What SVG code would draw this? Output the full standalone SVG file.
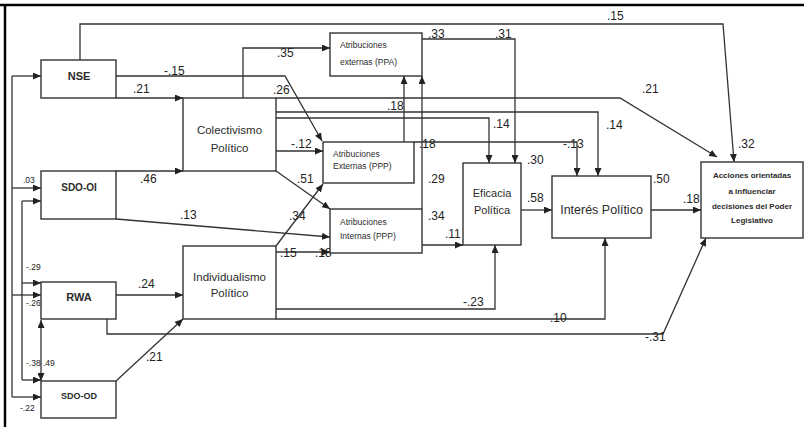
<svg xmlns="http://www.w3.org/2000/svg" width="804" height="427" viewBox="0 0 804 427">
<defs>
<marker id="a" markerUnits="userSpaceOnUse" markerWidth="8" markerHeight="7" refX="8" refY="3.5" orient="auto-start-reverse"><path d="M0,0 L8,3.5 L0,7 z" fill="#222"/></marker>
<style>
.box{fill:#fff;stroke:#333;stroke-width:1.4}
.t{font-family:"Liberation Sans",Arial,sans-serif;fill:#2b2b2b;text-anchor:middle}
.b{font-weight:bold}
.s{font-family:"Liberation Sans",Arial,sans-serif;fill:#2b2b2b;font-size:8.5px}
.l{font-family:"Liberation Sans",Arial,sans-serif;fill:#222;font-size:12px}
.ls{font-family:"Liberation Sans",Arial,sans-serif;fill:#222;font-size:8.5px}
#conn path{fill:none;stroke:#333;stroke-width:1.3}
#conn path.ar{marker-end:url(#a)}
</style>
</defs>
<rect width="804" height="427" fill="#fff"/>
<path d="M0,5 H804 M5,5 V427" stroke="#000" stroke-width="2.5" fill="none"/>
<g id="conn">
<path class="ar" d="M80,60 V24 H723 L734,162"/>
<path class="ar" d="M116,98 H183"/>
<path class="ar" d="M116,76 H285 L322,141"/>
<path class="ar" d="M243,98 V48 H330"/>
<path class="ar" d="M276,98 H620 L717,157"/>
<path class="ar" d="M276,112 H598 V176"/>
<path class="ar" d="M276,118 H489 V163"/>
<path class="ar" d="M276,151 H323"/>
<path class="ar" d="M276,171 L330,209"/>
<path class="ar" d="M116,171 H183"/>
<path class="ar" d="M116,219 L330,237"/>
<path class="ar" d="M276,246 L323,184"/>
<path class="ar" d="M276,252 H330"/>
<path class="ar" d="M276,309 H495 V245"/>
<path class="ar" d="M276,319 H605 V238"/>
<path class="ar" d="M116,295 H183"/>
<path class="ar" d="M107,319 V334 H663 L706,238"/>
<path class="ar" d="M116,381 L183,319"/>
<path class="ar" d="M404,142 V76"/>
<path class="ar" d="M422,209 V76"/>
<path class="ar" d="M414,142 H577 V176"/>
<path class="ar" d="M422,39 H515 V163"/>
<path class="ar" d="M422,245 H463"/>
<path class="ar" d="M521,210 H552"/>
<path class="ar" d="M651,210 H701"/>
<path d="M12,76 V397"/>
<path class="ar" d="M12,76 H41"/>
<path class="ar" d="M12,188 H41"/>
<path class="ar" d="M12,295 H41"/>
<path class="ar" d="M12,397 H41"/>
<path d="M22,201 V380"/>
<path class="ar" d="M22,201 H41"/>
<path class="ar" d="M22,283 H41"/>
<path class="ar" d="M22,380 H41"/>
<path class="ar" d="M41,320 V381" marker-start="url(#a)"/>
</g>
<g id="labels">
<text class="l" x="607" y="20">.15</text>
<text class="l" x="642" y="93">.21</text>
<text class="l" x="606" y="129">.14</text>
<text class="l" x="738" y="148" font-size="13">.32</text>
<text class="l" x="563" y="148">-.13</text>
<text class="l" x="493" y="128">.14</text>
<text class="l" x="387" y="110">.18</text>
<text class="l" x="419" y="148">.18</text>
<text class="l" x="273" y="94">.26</text>
<text class="l" x="164" y="75">-.15</text>
<text class="l" x="133" y="93">.21</text>
<text class="l" x="277" y="57">.35</text>
<text class="l" x="428" y="38">.33</text>
<text class="l" x="495" y="38">.31</text>
<text class="l" x="291" y="148">-.12</text>
<text class="l" x="297" y="183">.51</text>
<text class="l" x="428" y="183">.29</text>
<text class="l" x="428" y="220">.34</text>
<text class="l" x="289" y="220">.34</text>
<text class="l" x="445" y="238">.11</text>
<text class="l" x="280" y="257">.15</text>
<text class="l" x="315" y="257">.18</text>
<text class="l" x="180" y="219">.13</text>
<text class="l" x="140" y="183">.46</text>
<text class="l" x="138" y="288">.24</text>
<text class="l" x="146" y="361">.21</text>
<text class="l" x="463" y="306">-.23</text>
<text class="l" x="550" y="322">.10</text>
<text class="l" x="645" y="341">-.31</text>
<text class="l" x="653" y="183">.50</text>
<text class="l" x="527" y="202">.58</text>
<text class="l" x="527" y="164">.30</text>
<text class="l" x="683" y="203">.18</text>
<text class="ls" x="23" y="183">.03</text>
<text class="ls" x="26" y="270">-.29</text>
<text class="ls" x="26" y="306">-.26</text>
<text class="ls" x="26" y="366">-.38</text>
<text class="ls" x="43" y="366">.49</text>
<text class="ls" x="20" y="411">-.22</text>
</g>
<g id="nse"><rect class="box" x="41" y="60" width="75" height="38"/><text class="t b" x="79" y="80" font-size="11">NSE</text></g>
<g id="sdooi"><rect class="box" x="41" y="171" width="75" height="48"/><text class="t b" x="79" y="191" font-size="10">SDO-OI</text></g>
<g id="rwa"><rect class="box" x="41" y="282" width="75" height="37"/><text class="t b" x="79" y="301" font-size="11">RWA</text></g>
<g id="sdood"><rect class="box" x="41" y="381" width="75" height="37"/><text class="t b" x="79" y="399" font-size="9">SDO-OD</text></g>
<g id="colectivismo"><rect class="box" x="183" y="98" width="93" height="73"/><text class="t" x="229.5" y="134" font-size="11.5">Colectivismo</text><text class="t" x="229.5" y="152" font-size="11.5">Político</text></g>
<g id="individualismo"><rect class="box" x="183" y="246" width="93" height="73"/><text class="t" x="229.5" y="281" font-size="11.5">Individualismo</text><text class="t" x="229.5" y="297" font-size="11.5">Político</text></g>
<g id="aeppa"><rect class="box" x="330" y="33" width="92" height="43"/><text class="s" x="340" y="48">Atribuciones</text><text class="s" x="340" y="65">externas (PPA)</text></g>
<g id="aeppp"><rect class="box" x="323" y="142" width="91" height="41"/><text class="s" x="333" y="157">Atribuciones</text><text class="s" x="333" y="169">Externas (PPP)</text></g>
<g id="aippp"><rect class="box" x="330" y="209" width="92" height="44"/><text class="s" x="340" y="225">Atribuciones</text><text class="s" x="340" y="239">Internas (PPP)</text></g>
<g id="eficacia"><rect class="box" x="463" y="163" width="58" height="82"/><text class="t" x="492" y="197" font-size="11">Eficacia</text><text class="t" x="492" y="214" font-size="11">Política</text></g>
<g id="interes"><rect class="box" x="552" y="176" width="99" height="62"/><text class="t" x="601.5" y="214" font-size="12.5">Interés Político</text></g>
<g id="acciones"><rect class="box" x="701" y="162" width="102" height="76"/><text class="t b" x="752" y="178" font-size="8">Acciones orientadas</text><text class="t b" x="752" y="194" font-size="8">a influenciar</text><text class="t b" x="752" y="209" font-size="8">decisiones del Poder</text><text class="t b" x="752" y="223" font-size="8">Legislativo</text></g>
</svg>
